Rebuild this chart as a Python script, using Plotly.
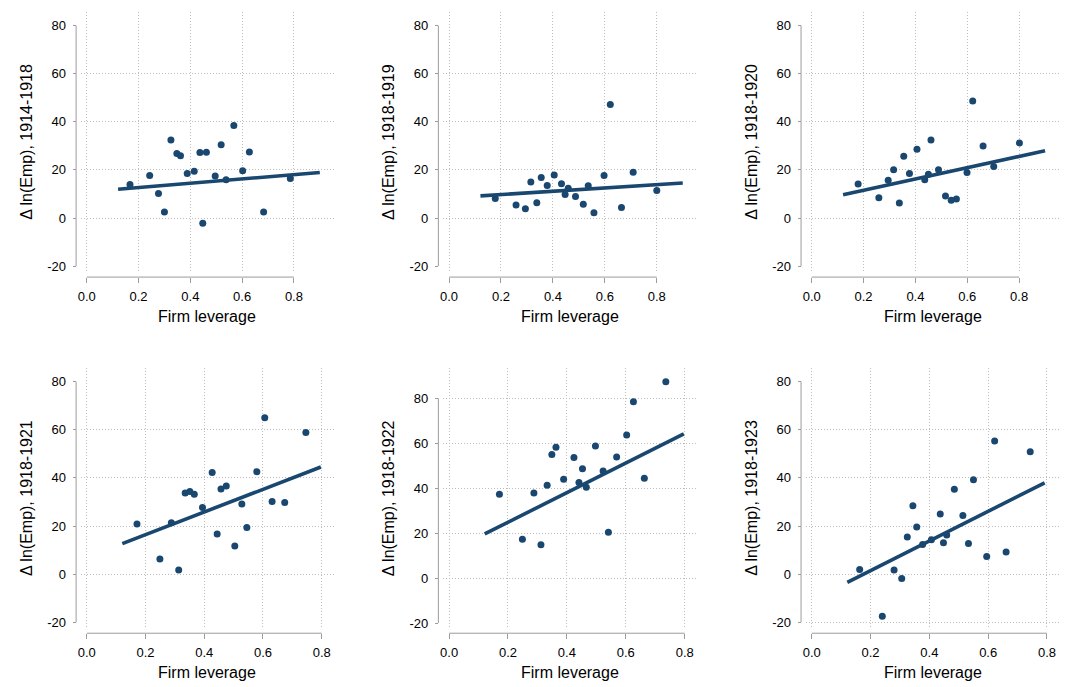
import plotly.graph_objects as go

# ---------------- data ----------------
titles = ["Δ ln(Emp), 1914-1918", "Δ ln(Emp), 1918-1919", "Δ ln(Emp), 1918-1920",
          "Δ ln(Emp), 1918-1921", "Δ ln(Emp), 1918-1922", "Δ ln(Emp), 1918-1923"]

lev_1914_1918 = [0.167, 0.243, 0.277, 0.300, 0.325, 0.348, 0.362, 0.388, 0.415, 0.437,
                 0.448, 0.462, 0.496, 0.519, 0.538, 0.568, 0.602, 0.628, 0.683, 0.786]
emp_1914_1918 = [13.9, 17.7, 10.2, 2.5, 32.4, 26.8, 25.9, 18.5, 19.4, 27.2,
                 -2.2, 27.3, 17.5, 30.5, 15.9, 38.5, 19.7, 27.4, 2.5, 16.4]

lev_1918_1919 = [0.178, 0.258, 0.294, 0.315, 0.338, 0.355, 0.378, 0.405, 0.433, 0.447,
                 0.459, 0.487, 0.517, 0.536, 0.558, 0.597, 0.621, 0.664, 0.709, 0.800]
emp_1918_1919 = [8.1, 5.4, 3.9, 15.0, 6.3, 16.8, 13.5, 17.9, 14.2, 9.8,
                 12.4, 9.0, 5.7, 13.4, 2.2, 17.7, 47.2, 4.4, 19.0, 11.4]

lev_1918_1920 = [0.179, 0.259, 0.295, 0.316, 0.338, 0.355, 0.377, 0.406, 0.436, 0.450,
                 0.460, 0.489, 0.516, 0.538, 0.558, 0.599, 0.621, 0.661, 0.702, 0.801]
emp_1918_1920 = [14.1, 8.4, 15.7, 20.1, 6.2, 25.7, 18.5, 28.6, 15.9, 18.2,
                 32.4, 20.1, 9.2, 7.4, 7.9, 18.9, 48.7, 29.9, 21.4, 31.2]

lev_1918_1921 = [0.171, 0.249, 0.288, 0.313, 0.335, 0.351, 0.366, 0.394, 0.427, 0.444,
                 0.457, 0.475, 0.504, 0.528, 0.545, 0.579, 0.606, 0.631, 0.674, 0.746]
emp_1918_1921 = [20.8, 6.3, 21.4, 1.7, 33.7, 34.3, 33.2, 27.7, 42.2, 16.7,
                 35.4, 36.6, 11.7, 29.2, 19.4, 42.6, 65.0, 30.2, 29.8, 58.9]

lev_1918_1922 = [0.171, 0.249, 0.288, 0.312, 0.333, 0.349, 0.363, 0.389, 0.424, 0.441,
                 0.453, 0.466, 0.497, 0.523, 0.541, 0.569, 0.603, 0.626, 0.663, 0.736]
emp_1918_1922 = [37.3, 17.3, 37.9, 14.8, 41.3, 55.0, 58.2, 44.0, 53.6, 42.5,
                 48.6, 40.4, 58.8, 47.6, 20.4, 53.9, 63.6, 78.5, 44.4, 87.4]

lev_1918_1923 = [0.163, 0.240, 0.280, 0.306, 0.325, 0.344, 0.357, 0.377, 0.407, 0.437,
                 0.448, 0.459, 0.485, 0.514, 0.533, 0.550, 0.595, 0.622, 0.661, 0.743]
emp_1918_1923 = [1.9, -17.5, 1.7, -1.8, 15.4, 28.4, 19.6, 12.3, 14.3, 25.0,
                 13.0, 16.3, 35.3, 24.4, 12.7, 39.2, 7.3, 55.3, 9.2, 50.9]

lev_series = [lev_1914_1918, lev_1918_1919, lev_1918_1920, lev_1918_1921, lev_1918_1922, lev_1918_1923]
emp_series = [emp_1914_1918, emp_1918_1919, emp_1918_1920, emp_1918_1921, emp_1918_1922, emp_1918_1923]

# linear fit lines (intercept, slope, x-span)
fit_intercept = [10.92, 8.36, 6.87, 7.01, 11.67, -10.85]
fit_slope = [8.87, 6.91, 23.4, 47.05, 65.8, 61.6]
fit_x_start = [0.121, 0.121, 0.121, 0.121, 0.121, 0.121]
fit_x_end = [0.90, 0.90, 0.90, 0.797, 0.797, 0.792]

x_tick_vals = [0.0, 0.2, 0.4, 0.6, 0.8]
x_tick_text = ["0.0", "0.2", "0.4", "0.6", "0.8"]
y_tick_vals = [-20, 0, 20, 40, 60, 80]
y_tick_text = ["-20", "0", "20", "40", "60", "80"]
y_grid_vals = [[0, 20, 40, 60], [0, 20, 40, 60], [0, 20, 40, 60],
               [0, 20, 40, 60], [0, 20, 40, 60, 80], [-20, 0, 20, 40, 60]]

# ---------------- layout geometry (pixels) ----------------
W, H = 1068, 687
col_left = [78, 441.3, 805]
col_right = [332, 696, 1059.3]
row_top = [12, 369.6]
row_bottom = [273, 630.7]
x_ranges = [[-0.023, 0.955], [-0.0204, 0.842]]
y_ranges = [[-22.36, 85.67], [-22.36, 85.67], [-22.36, 85.67],
            [-22.36, 85.67], [-22.2, 93.47], [-22.36, 85.67]]
axis_offset_x = 4.7   # y-axis line left of plot region
axis_offset_y = 5.3   # x-axis line below plot region

NAVY = "#1a476f"
AXIS_GRAY = "#9c9c9c"
GRID_GRAY = "#bdbdbd"
FONT = "Liberation Sans, Arial, Helvetica, sans-serif"

fig = go.Figure()
layout = dict(width=W, height=H, margin=dict(l=0, r=0, t=0, b=0),
              paper_bgcolor="white", plot_bgcolor="white", showlegend=False,
              font=dict(family=FONT, color="black"))
shapes, annotations = [], []

for i in range(6):
    r, c = divmod(i, 3)
    n = i + 1
    sx = "" if n == 1 else str(n)
    xa, ya = "x" + sx, "y" + sx
    ox, oy = "x" + str(n + 6), "y" + str(n + 6)
    L, R, T, B = col_left[c], col_right[c], row_top[r], row_bottom[r]
    xdom = [L / W, R / W]
    ydom = [1 - B / H, 1 - T / H]
    xr, yr = x_ranges[r], y_ranges[i]

    # scatter points
    fig.add_trace(go.Scatter(x=lev_series[i], y=emp_series[i], mode="markers",
                             marker=dict(color=NAVY, size=7, line=dict(width=0)),
                             xaxis=xa, yaxis=ya, hoverinfo="skip"))
    # fitted line
    fx = [fit_x_start[i], fit_x_end[i]]
    fy = [fit_intercept[i] + fit_slope[i] * v for v in fx]
    fig.add_trace(go.Scatter(x=fx, y=fy, mode="lines",
                             line=dict(color=NAVY, width=3.6),
                             xaxis=xa, yaxis=ya, hoverinfo="skip"))
    # dummy traces to register the tick overlay axes
    fig.add_trace(go.Scatter(x=[None], y=[None], xaxis=ox, yaxis=ya, hoverinfo="skip"))
    fig.add_trace(go.Scatter(x=[None], y=[None], xaxis=xa, yaxis=oy, hoverinfo="skip"))

    # main axes: grid only
    layout["xaxis" + sx] = dict(domain=xdom, range=xr, anchor=ya, tickmode="array",
                                tickvals=x_tick_vals, showticklabels=False, ticks="",
                                showgrid=True, gridcolor=GRID_GRAY, gridwidth=1,
                                griddash="1px,2px", zeroline=False, showline=False,
                                fixedrange=True)
    layout["yaxis" + sx] = dict(domain=ydom, range=yr, anchor=xa, tickmode="array",
                                tickvals=y_grid_vals[i], showticklabels=False, ticks="",
                                showgrid=True, gridcolor=GRID_GRAY, gridwidth=1,
                                griddash="1px,2px", zeroline=False, showline=False,
                                fixedrange=True)
    # overlay axes: ticks + labels, offset like Stata
    xpos = 1 - (B + axis_offset_y) / H
    ypos = (L - axis_offset_x) / W
    layout["xaxis" + str(n + 6)] = dict(overlaying=xa, anchor="free", position=xpos,
                                        range=xr, tickmode="array", tickvals=x_tick_vals,
                                        ticktext=x_tick_text, ticks="outside", ticklen=4.5,
                                        tickcolor=AXIS_GRAY, tickwidth=1, showgrid=False,
                                        zeroline=False, showline=False, ticklabelstandoff=3,
                                        tickfont=dict(size=13, family=FONT, color="black"),
                                        fixedrange=True)
    layout["yaxis" + str(n + 6)] = dict(overlaying=ya, anchor="free", position=ypos,
                                        side="left", range=yr, tickmode="array",
                                        tickvals=y_tick_vals, ticktext=y_tick_text,
                                        ticks="outside", ticklen=3.5, tickcolor=AXIS_GRAY,
                                        tickwidth=1, showgrid=False, zeroline=False,
                                        showline=False, ticklabelstandoff=4,
                                        tickfont=dict(size=13, family=FONT, color="black"),
                                        fixedrange=True)
    # axis lines spanning only the tick range
    shapes.append(dict(type="line", xref="paper", yref=ya, x0=ypos, x1=ypos,
                       y0=y_tick_vals[0], y1=y_tick_vals[-1],
                       line=dict(color=AXIS_GRAY, width=1)))
    shapes.append(dict(type="line", xref=xa, yref="paper", x0=x_tick_vals[0],
                       x1=x_tick_vals[-1], y0=xpos, y1=xpos,
                       line=dict(color=AXIS_GRAY, width=1)))
    # axis titles
    annotations.append(dict(text="Firm leverage", xref="paper", yref="paper",
                            x=(L + R) / 2 / W, y=1 - (B + 45) / H, xanchor="center",
                            yanchor="middle", showarrow=False,
                            font=dict(size=16, family=FONT, color="black")))
    annotations.append(dict(text=titles[i], xref="paper", yref="paper",
                            x=(L - 54) / W, y=1 - (T + B) / 2 / H, xanchor="center",
                            yanchor="middle", textangle=-90, showarrow=False,
                            font=dict(size=16, family=FONT, color="black")))

layout["shapes"] = shapes
layout["annotations"] = annotations
fig.update_layout(**layout)
fig.write_html("out.html", config={"displayModeBar": False},
               post_script="document.body.style.margin='0px';")
